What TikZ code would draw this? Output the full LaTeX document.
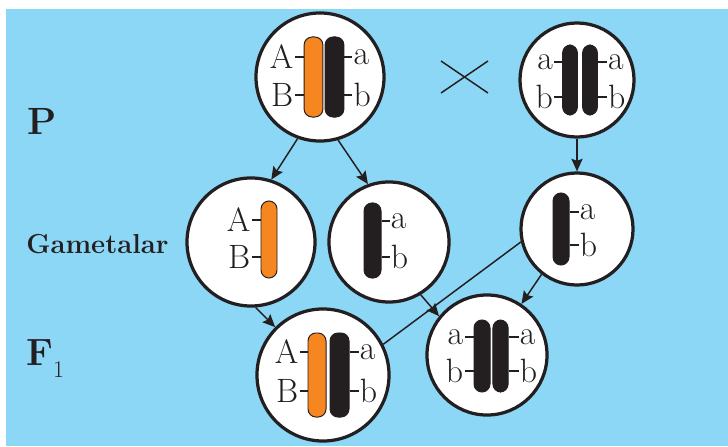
\documentclass[tikz,border=0pt]{standalone}
\usepackage{tikz}
\usetikzlibrary{
  arrows.meta
}
\definecolor{sky}{HTML}{8CD7F5}
\definecolor{ink}{HTML}{231F20}
\definecolor{domorange}{HTML}{F6861F}

\begin{document}
\begin{tikzpicture}[
  x=0.025cm, y=-0.025cm,
  cell/.style={circle, draw=ink, line width=2.3pt, fill=white, inner sep=0pt},
  chrom/.style={rectangle, rounded corners=0.2cm, minimum width=0.42cm,
    inner sep=0pt, draw=ink, line width=0.7pt},
  dom/.style={chrom, fill=domorange},
  rec/.style={chrom, fill=ink},
  gene/.style={draw=ink, line width=0.9pt},
  allele/.style={font=\fontsize{24}{26}\selectfont, text=ink, inner sep=0.5pt},
  link/.style={draw=ink, line width=1.05pt},
  cross/.style={link, -{Stealth[length=9pt,width=8pt,inset=1.5pt]}},
  row/.style={font=\fontsize{27}{30}\bfseries, text=ink, inner sep=0pt, anchor=base west},
]
\useasboundingbox (0,0) rectangle (728,446);
\fill[white] (0,0) rectangle (728,446);
\fill[sky] (6,9) rectangle (728,446);

\node[row] (plabel) at (27,135) {P};
\node[row, font=\fontsize{19.5}{22}\bfseries] (glabel) at (26,253) {Gametalar};
\node[row] (flabel) at (26,365) {F\raisebox{-9pt}{\fontsize{17}{17}\mdseries 1}};

\node[cell, minimum size=3.2cm] (p1) at (320,77) {};
\node[dom, minimum width=0.47cm, minimum height=2cm] (p1d) at (313.5,77) {};
\node[rec, minimum width=0.47cm, minimum height=2cm] (p1r) at (334.5,77) {};
\draw[gene] (p1d.west |- 0,57) -- ++(-9,0) node[allele, left] {A};
\draw[gene] (p1d.west |- 0,95) -- ++(-9,0) node[allele, left] {B};
\draw[gene] (p1r.east |- 0,57) -- ++(8,0) node[allele, right] {a};
\draw[gene] (p1r.east |- 0,95) -- ++(8,0) node[allele, right] {b};

\draw[link] (441,61) -- (488,93) (441,93) -- (488,61);

\node[cell, minimum size=2.85cm] (p2) at (577,80) {};
\node[rec, minimum width=0.37cm, minimum height=1.75cm] (p2l) at (570,80) {};
\node[rec, minimum width=0.37cm, minimum height=1.75cm] (p2r) at (590,80) {};
\draw[gene] (p2l.west |- 0,62) -- ++(-8,0) node[allele, left] {a};
\draw[gene] (p2l.west |- 0,97) -- ++(-8,0) node[allele, left] {b};
\draw[gene] (p2r.east |- 0,62) -- ++(9,0) node[allele, right] {a};
\draw[gene] (p2r.east |- 0,97) -- ++(9,0) node[allele, right] {b};

\node[cell, minimum size=3.2cm] (g1) at (251,242) {};
\node[dom, minimum width=0.4cm, minimum height=1.925cm] (g1d) at (269,239.5) {};
\draw[gene] (g1d.west |- 0,220) -- ++(-9,0) node[allele, left] {A};
\draw[gene] (g1d.west |- 0,257) -- ++(-9,0) node[allele, left] {B};

\node[cell, minimum size=3cm] (g2) at (389,242) {};
\node[rec, minimum width=0.425cm, minimum height=1.875cm] (g2r) at (372.5,240.5) {};
\draw[gene] (g2r.east |- 0,221) -- ++(8,0) node[allele, right] {a};
\draw[gene] (g2r.east |- 0,257) -- ++(8,0) node[allele, right] {b};

\node[cell, minimum size=2.8cm] (g3) at (577,229) {};
\node[rec, minimum width=0.4cm, minimum height=1.8cm] (g3r) at (561,229) {};
\draw[gene] (g3r.east |- 0,212) -- ++(9,0) node[allele, right] {a};
\draw[gene] (g3r.east |- 0,245) -- ++(9,0) node[allele, right] {b};

\node[cell, minimum size=3.3cm] (f1l) at (323,375) {};
\node[dom, minimum width=0.45cm, minimum height=2.1cm] (f1ld) at (317,375) {};
\node[rec, minimum width=0.475cm, minimum height=2.1cm] (f1lr) at (339.5,375) {};
\draw[gene] (f1ld.west |- 0,352) -- ++(-8,0) node[allele, left] {A};
\draw[gene] (f1ld.west |- 0,391) -- ++(-8,0) node[allele, left] {B};
\draw[gene] (f1lr.east |- 0,352) -- ++(9,0) node[allele, right] {a};
\draw[gene] (f1lr.east |- 0,391) -- ++(9,0) node[allele, right] {b};

\node[cell, minimum size=3cm] (f1r) at (487,355) {};
\node[rec, minimum width=0.4cm, minimum height=1.8cm] (f1rl) at (482,356) {};
\node[rec, minimum width=0.38cm, minimum height=1.8cm] (f1rr) at (500.5,356) {};
\draw[gene] (f1rl.west |- 0,337) -- ++(-9,0) node[allele, left] {a};
\draw[gene] (f1rl.west |- 0,371) -- ++(-9,0) node[allele, left] {b};
\draw[gene] (f1rr.east |- 0,337) -- ++(10,0) node[allele, right] {a};
\draw[gene] (f1rr.east |- 0,371) -- ++(10,0) node[allele, right] {b};

\draw[cross] (p1.250) -- (g1.72);
\draw[cross] (p1.286) -- (g2.110);
\draw[cross] (p2) -- (g3);
\draw[cross] (g1.274) -- (f1l.135);
\draw[cross] (g2.301) -- (f1r.141);
\draw[cross] (g3.232) -- (f1r.56);
\draw[link] (g3.193) -- (f1l.27);
\end{tikzpicture}
\end{document}
